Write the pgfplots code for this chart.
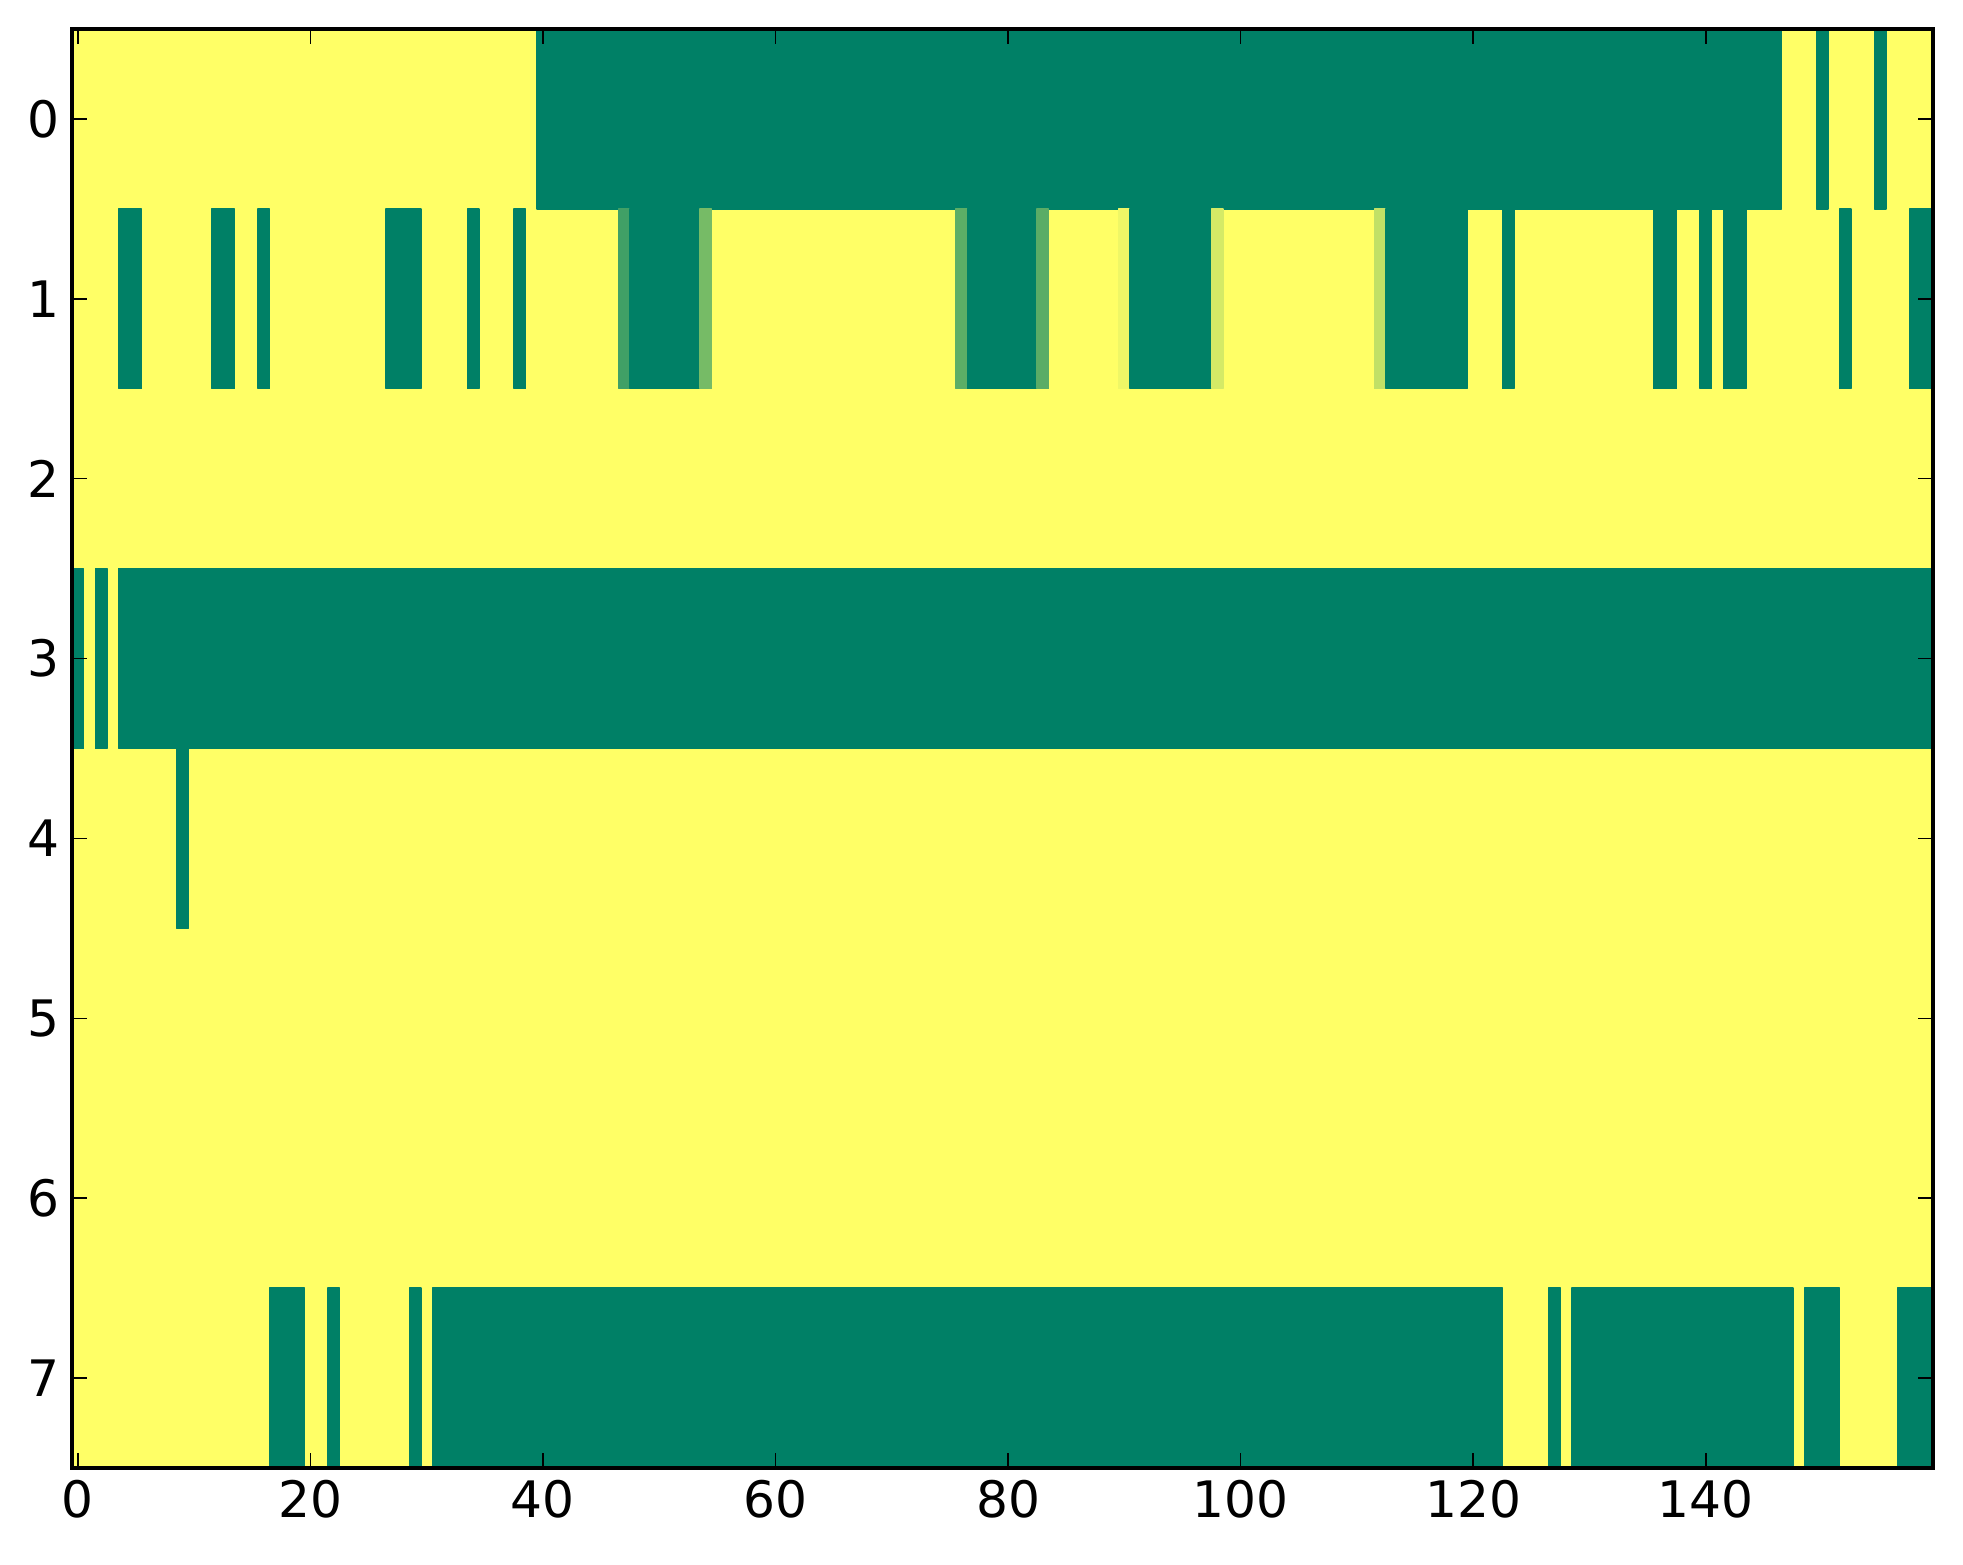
\documentclass[border=0pt]{standalone}
\usepackage{pgfplots}
\pgfplotsset{compat=1.18}
\usepgfplotslibrary{patchplots}
\usepackage{fontspec}
\setmainfont{DejaVu Sans}
\begin{document}
\begin{tikzpicture}
\useasboundingbox (-7.2mm,-9.6mm) rectangle (189.1mm,146.8mm);
\begin{axis}[
  at={(0,0)}, anchor=south west,
  scale only axis, width=186.05mm, height=143.9mm,
  xmin=-0.5, xmax=159.5, ymin=-0.5, ymax=7.5,
  y dir=reverse,
  enlargelimits=false,
  xtick={0,20,...,140}, ytick={0,1,...,7},
  tick align=inside,
  major tick length=1.5mm,
  major tick style={line width=0.15mm, black},
  axis line style={line width=0.4mm},
  axis on top,
  tick label style={font=\fontsize{14.3}{17}\selectfont},
  /pgf/number format/assume math mode=true,
  colormap={summer}{rgb=(0,0.5,0.4) rgb=(1,1,0.4)},
  point meta min=0, point meta max=1,
]
\addplot[patch, patch type=rectangle, shader=flat, point meta=explicit] table[meta index=2] {
x y c
-0.5 -0.5 1
159.5 -0.5 1
159.5 7.5 1
-0.5 7.5 1
39.5 -0.5 0
146.5 -0.5 0
146.5 0.5 0
39.5 0.5 0
149.5 -0.5 0
150.5 -0.5 0
150.5 0.5 0
149.5 0.5 0
154.5 -0.5 0
155.5 -0.5 0
155.5 0.5 0
154.5 0.5 0
3.5 0.5 0
5.5 0.5 0
5.5 1.5 0
3.5 1.5 0
11.5 0.5 0
13.5 0.5 0
13.5 1.5 0
11.5 1.5 0
15.5 0.5 0
16.5 0.5 0
16.5 1.5 0
15.5 1.5 0
26.5 0.5 0
29.5 0.5 0
29.5 1.5 0
26.5 1.5 0
33.5 0.5 0
34.5 0.5 0
34.5 1.5 0
33.5 1.5 0
37.5 0.5 0
38.5 0.5 0
38.5 1.5 0
37.5 1.5 0
46.5 0.5 0.25
47.5 0.5 0.25
47.5 1.5 0.25
46.5 1.5 0.25
47.5 0.5 0
53.5 0.5 0
53.5 1.5 0
47.5 1.5 0
53.5 0.5 0.46
54.5 0.5 0.46
54.5 1.5 0.46
53.5 1.5 0.46
75.5 0.5 0.36
76.5 0.5 0.36
76.5 1.5 0.36
75.5 1.5 0.36
76.5 0.5 0
82.5 0.5 0
82.5 1.5 0
76.5 1.5 0
82.5 0.5 0.35
83.5 0.5 0.35
83.5 1.5 0.35
82.5 1.5 0.35
89.5 0.5 0.93
90.5 0.5 0.93
90.5 1.5 0.93
89.5 1.5 0.93
90.5 0.5 0
97.5 0.5 0
97.5 1.5 0
90.5 1.5 0
97.5 0.5 0.83
98.5 0.5 0.83
98.5 1.5 0.83
97.5 1.5 0.83
111.5 0.5 0.75
112.5 0.5 0.75
112.5 1.5 0.75
111.5 1.5 0.75
112.5 0.5 0
119.5 0.5 0
119.5 1.5 0
112.5 1.5 0
122.5 0.5 0
123.5 0.5 0
123.5 1.5 0
122.5 1.5 0
135.5 0.5 0
137.5 0.5 0
137.5 1.5 0
135.5 1.5 0
139.5 0.5 0
140.5 0.5 0
140.5 1.5 0
139.5 1.5 0
141.5 0.5 0
143.5 0.5 0
143.5 1.5 0
141.5 1.5 0
151.5 0.5 0
152.5 0.5 0
152.5 1.5 0
151.5 1.5 0
157.5 0.5 0
159.5 0.5 0
159.5 1.5 0
157.5 1.5 0
-0.5 2.5 0
0.5 2.5 0
0.5 3.5 0
-0.5 3.5 0
1.5 2.5 0
2.5 2.5 0
2.5 3.5 0
1.5 3.5 0
3.5 2.5 0
159.5 2.5 0
159.5 3.5 0
3.5 3.5 0
8.5 3.5 0
9.5 3.5 0
9.5 4.5 0
8.5 4.5 0
16.5 6.5 0
19.5 6.5 0
19.5 7.5 0
16.5 7.5 0
21.5 6.5 0
22.5 6.5 0
22.5 7.5 0
21.5 7.5 0
28.5 6.5 0
29.5 6.5 0
29.5 7.5 0
28.5 7.5 0
30.5 6.5 0
122.5 6.5 0
122.5 7.5 0
30.5 7.5 0
126.5 6.5 0
127.5 6.5 0
127.5 7.5 0
126.5 7.5 0
128.5 6.5 0
147.5 6.5 0
147.5 7.5 0
128.5 7.5 0
148.5 6.5 0
151.5 6.5 0
151.5 7.5 0
148.5 7.5 0
156.5 6.5 0
159.5 6.5 0
159.5 7.5 0
156.5 7.5 0
};
\end{axis}
\end{tikzpicture}
\end{document}
